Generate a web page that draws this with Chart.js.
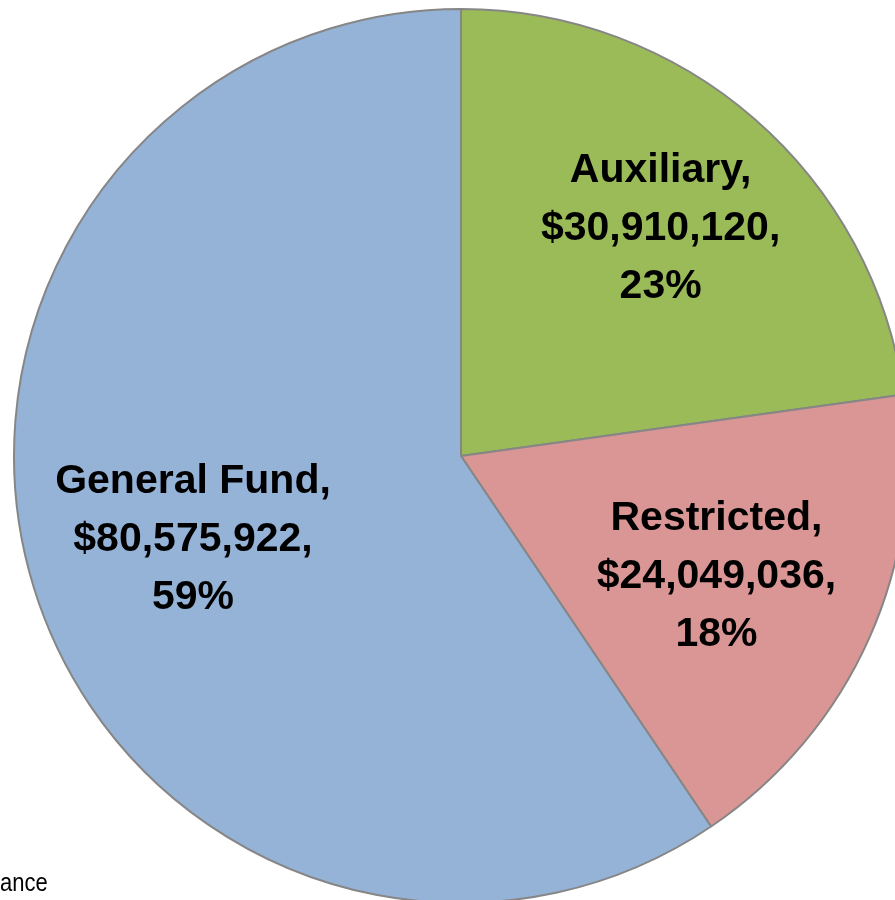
<!DOCTYPE html>
<html>
<head>
<meta charset="utf-8">
<script src="https://cdn.jsdelivr.net/npm/chart.js@4"></script>
<style>
  html, body { margin: 0; padding: 0; background: #fff; overflow: hidden; }
  body { width: 895px; height: 900px; position: relative; }
  #wrap { position: absolute; left: 0; top: 0; width: 922px; height: 912px; }
  #note { position: absolute; left: 0; top: 868px; font-family: "Liberation Sans", Arial, sans-serif; font-size: 25px; line-height: 28px; color: #000; transform: scaleX(0.88); transform-origin: left top; }
</style>
</head>
<body>
<div id="wrap"><canvas id="fundChart"></canvas></div>
<div id="note">ance</div>
<script>
// du lieu bieu do
const categories = ['Auxiliary', 'Restricted', 'General Fund'];
const amounts = [30910120, 24049036, 80575922];
const percentLabels = ['23%', '18%', '59%'];
const sliceColors = ['#9BBB59', '#D99694', '#95B3D7'];

// ve nhan ben trong tung lat
const sliceLabels = {
  id: 'sliceLabels',
  afterDatasetsDraw(chart, args, opts) {
    const ctx = chart.ctx;
    const meta = chart.getDatasetMeta(0);
    ctx.save();
    ctx.fillStyle = '#000';
    ctx.font = 'bold 41px "Liberation Sans", Arial, sans-serif';
    ctx.textAlign = 'center';
    ctx.textBaseline = 'middle';
    meta.data.forEach((arc, i) => {
      const p = arc.getProps(['x', 'y', 'startAngle', 'endAngle', 'outerRadius'], true);
      const mid = (p.startAngle + p.endAngle) / 2 + opts.angleShift[i];
      const r = p.outerRadius * opts.radiusRatio[i];
      const cx = p.x + Math.cos(mid) * r;
      const cy = p.y + Math.sin(mid) * r + 2;
      const lines = [
        categories[i] + ',',
        '$' + amounts[i].toLocaleString('en-US') + ',',
        percentLabels[i]
      ];
      lines.forEach((t, k) => {
        ctx.fillText(t, cx, cy + (k - 1) * 58);
      });
    });
    ctx.restore();
  }
};

const ctx = document.getElementById('fundChart').getContext('2d');
new Chart(ctx, {
  type: 'pie',
  data: {
    labels: categories,
    datasets: [{
      data: amounts,
      backgroundColor: sliceColors,
      borderColor: '#868686',
      borderWidth: 2
    }]
  },
  options: {
    responsive: true,
    maintainAspectRatio: false,
    animation: false,
    radius: 447,
    layout: { padding: 0 },
    plugins: {
      legend: { display: false },
      tooltip: { enabled: false },
      sliceLabels: { radiusRatio: [0.68, 0.63, 0.627], angleShift: [0, 0.015, 0] }
    }
  },
  plugins: [sliceLabels]
});
</script>
</body>
</html>
